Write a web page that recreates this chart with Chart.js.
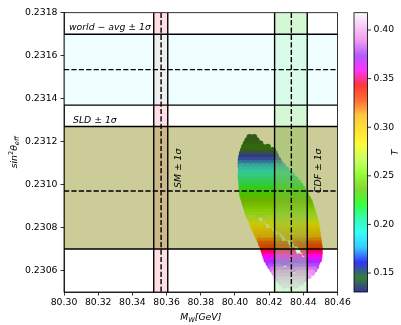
<!DOCTYPE html>
<html>
<head>
<meta charset="utf-8">
<script src="https://cdn.jsdelivr.net/npm/chart.js@4.4.0/dist/chart.umd.min.js"></script>
<style>
  html, body { margin: 0; padding: 0; background: #fff; }
  canvas { display: block; }
</style>
</head>
<body>
<canvas id="chart" width="401" height="325"></canvas>
<script>
// axis ticks
const xTicks = [80.30, 80.32, 80.34, 80.36, 80.38, 80.40, 80.42, 80.44, 80.46];
const yTicks = [0.2306, 0.2308, 0.2310, 0.2312, 0.2314, 0.2316, 0.2318];
const cbarTicks = [0.15, 0.20, 0.25, 0.30, 0.35, 0.40];
const tMin = 0.1305, tMax = 0.4178;

// horizontal bands: world average and SLD (sin^2 theta_eff)
const hBandLabels = ['world \u2212 avg \u00b1 1\u03c3', 'SLD \u00b1 1\u03c3'];
const hBandLo = [0.23137, 0.23070];
const hBandMid = [0.231535, 0.23097];
const hBandHi = [0.23170, 0.23127];

// vertical bands: SM and CDF (M_W)
const vBandLabels = ['SM \u00b1 1\u03c3', 'CDF \u00b1 1\u03c3'];
const vBandLo = [80.3525, 80.4232];
const vBandMid = [80.3568, 80.4330];
const vBandHi = [80.3607, 80.4423];

// scan points: sin2 of the row, T of the row, M_W of each dot
const cloudSin2 = [
  0.23122, 0.231205, 0.23119, 0.231175, 0.23116, 0.231145, 0.23113, 0.231115,
  0.23110, 0.231085, 0.23107, 0.231055, 0.23104, 0.231025, 0.23101, 0.230995,
  0.23098, 0.230965, 0.23095, 0.230935, 0.23092, 0.230905, 0.23089, 0.230875,
  0.23086, 0.230845, 0.23083, 0.230815, 0.23080, 0.230785, 0.23077, 0.230755,
  0.23074, 0.230725, 0.23071, 0.230695, 0.23068, 0.230665, 0.23065, 0.230635,
  0.23062, 0.230605, 0.23059, 0.230575, 0.23056, 0.230545, 0.23053];
const cloudT = [
  0.140, 0.141, 0.142, 0.1445, 0.147, 0.1525, 0.158, 0.164,
  0.170, 0.177, 0.184, 0.1905, 0.197, 0.2025, 0.208, 0.213,
  0.218, 0.2225, 0.227, 0.232, 0.237, 0.2425, 0.248, 0.254,
  0.260, 0.2665, 0.273, 0.2805, 0.288, 0.2955, 0.303, 0.3115,
  0.320, 0.3285, 0.337, 0.3435, 0.350, 0.357, 0.364, 0.371,
  0.378, 0.385, 0.392, 0.397, 0.402, 0.406, 0.410];
const cloudMw = [
  [80.4086, 80.4112],
  [80.4074, 80.4100, 80.4126],
  [80.4064, 80.4092, 80.4120, 80.4148],
  [80.4055, 80.4078, 80.4106, 80.4134, 80.4162, 80.4192],
  [80.4048, 80.4076, 80.4104, 80.4132, 80.4160, 80.4188, 80.4222],
  [80.4042, 80.4062, 80.4090, 80.4118, 80.4146, 80.4174, 80.4202, 80.4232],
  [80.4038, 80.4066, 80.4094, 80.4122, 80.4150, 80.4178, 80.4206, 80.4240],
  [80.4035, 80.4052, 80.4080, 80.4108, 80.4136, 80.4164, 80.4192, 80.4220, 80.4252],
  [80.4034, 80.4062, 80.4090, 80.4118, 80.4146, 80.4174, 80.4202, 80.4230, 80.4262],
  [80.4034, 80.4048, 80.4076, 80.4104, 80.4132, 80.4160, 80.4188, 80.4216, 80.4244, 80.4280],
  [80.4036, 80.4064, 80.4092, 80.4120, 80.4148, 80.4176, 80.4204, 80.4232, 80.4260, 80.4298],
  [80.4035, 80.4050, 80.4078, 80.4106, 80.4134, 80.4162, 80.4190, 80.4218, 80.4246, 80.4274, 80.4316],
  [80.4034, 80.4062, 80.4090, 80.4118, 80.4146, 80.4174, 80.4202, 80.4230, 80.4258, 80.4286, 80.4310, 80.4334],
  [80.4036, 80.4048, 80.4076, 80.4104, 80.4132, 80.4160, 80.4188, 80.4216, 80.4244, 80.4272, 80.4300, 80.4324, 80.4352],
  [80.4038, 80.4066, 80.4094, 80.4122, 80.4150, 80.4178, 80.4206, 80.4234, 80.4262, 80.4290, 80.4318, 80.4344, 80.4368],
  [80.4039, 80.4052, 80.4080, 80.4108, 80.4136, 80.4164, 80.4192, 80.4220, 80.4248, 80.4276, 80.4304, 80.4332, 80.4358, 80.4382],
  [80.4040, 80.4068, 80.4096, 80.4124, 80.4152, 80.4180, 80.4208, 80.4236, 80.4264, 80.4292, 80.4320, 80.4348, 80.4372, 80.4394],
  [80.4042, 80.4054, 80.4082, 80.4110, 80.4138, 80.4166, 80.4194, 80.4222, 80.4250, 80.4278, 80.4306, 80.4334, 80.4362, 80.4384, 80.4405],
  [80.4044, 80.4072, 80.4100, 80.4128, 80.4156, 80.4184, 80.4212, 80.4240, 80.4268, 80.4296, 80.4324, 80.4352, 80.4380, 80.4416],
  [80.4050, 80.4078, 80.4106, 80.4134, 80.4162, 80.4190, 80.4218, 80.4246, 80.4274, 80.4302, 80.4330, 80.4358, 80.4386, 80.4408, 80.4426],
  [80.4056, 80.4084, 80.4112, 80.4140, 80.4168, 80.4196, 80.4224, 80.4252, 80.4280, 80.4308, 80.4336, 80.4364, 80.4392, 80.4414, 80.4436],
  [80.4062, 80.4084, 80.4110, 80.4138, 80.4166, 80.4194, 80.4222, 80.4250, 80.4278, 80.4306, 80.4334, 80.4362, 80.4390, 80.4416, 80.4442],
  [80.4068, 80.4096, 80.4124, 80.4152, 80.4180, 80.4208, 80.4236, 80.4264, 80.4292, 80.4320, 80.4348, 80.4376, 80.4404, 80.4428, 80.4448],
  [80.4074, 80.4096, 80.4124, 80.4152, 80.4180, 80.4208, 80.4236, 80.4264, 80.4292, 80.4320, 80.4348, 80.4376, 80.4404, 80.4430, 80.4454],
  [80.4080, 80.4108, 80.4136, 80.4164, 80.4192, 80.4220, 80.4248, 80.4276, 80.4304, 80.4332, 80.4360, 80.4388, 80.4416, 80.4440, 80.4460],
  [80.4089, 80.4114, 80.4178, 80.4206, 80.4234, 80.4262, 80.4290, 80.4318, 80.4346, 80.4374, 80.4402, 80.4430, 80.4452, 80.4466],
  [80.4098, 80.4126, 80.4196, 80.4224, 80.4252, 80.4280, 80.4308, 80.4336, 80.4364, 80.4392, 80.4420, 80.4448, 80.4472],
  [80.4104, 80.4132, 80.4160, 80.4216, 80.4238, 80.4266, 80.4294, 80.4322, 80.4350, 80.4378, 80.4406, 80.4434, 80.4460, 80.4476],
  [80.4110, 80.4138, 80.4166, 80.4244, 80.4272, 80.4300, 80.4328, 80.4356, 80.4384, 80.4412, 80.4440, 80.4462, 80.4478],
  [80.4119, 80.4147, 80.4175, 80.4203, 80.4263, 80.4286, 80.4314, 80.4342, 80.4370, 80.4398, 80.4426, 80.4451, 80.4470, 80.4481],
  [80.4128, 80.4156, 80.4184, 80.4212, 80.4292, 80.4320, 80.4348, 80.4376, 80.4404, 80.4432, 80.4458, 80.4484],
  [80.4137, 80.4165, 80.4193, 80.4221, 80.4249, 80.4310, 80.4334, 80.4362, 80.4390, 80.4418, 80.4445, 80.4466, 80.4487],
  [80.4146, 80.4174, 80.4202, 80.4230, 80.4258, 80.4340, 80.4368, 80.4396, 80.4424, 80.4452, 80.4472, 80.4490],
  [80.4154, 80.4182, 80.4210, 80.4238, 80.4266, 80.4294, 80.4360, 80.4382, 80.4410, 80.4438, 80.4462, 80.4482, 80.4492],
  [80.4162, 80.4190, 80.4218, 80.4246, 80.4274, 80.4302, 80.4386, 80.4414, 80.4442, 80.4470, 80.4495],
  [80.4168, 80.4196, 80.4224, 80.4252, 80.4280, 80.4308, 80.4336, 80.4400, 80.4428, 80.4456, 80.4482, 80.4495],
  [80.4174, 80.4202, 80.4230, 80.4258, 80.4286, 80.4314, 80.4342, 80.4412, 80.4440, 80.4468, 80.4495],
  [80.4180, 80.4208, 80.4236, 80.4264, 80.4292, 80.4320, 80.4348, 80.4376, 80.4426, 80.4454, 80.4480, 80.4493],
  [80.4186, 80.4214, 80.4242, 80.4270, 80.4298, 80.4354, 80.4382, 80.4410, 80.4438, 80.4466, 80.4490],
  [80.4197, 80.4225, 80.4253, 80.4281, 80.4312, 80.4340, 80.4368, 80.4396, 80.4424, 80.4452, 80.4478],
  [80.4208, 80.4236, 80.4264, 80.4320, 80.4348, 80.4376, 80.4404, 80.4432, 80.4456, 80.4474],
  [80.4220, 80.4248, 80.4276, 80.4304, 80.4334, 80.4362, 80.4390, 80.4418, 80.4444, 80.4464],
  [80.4232, 80.4260, 80.4288, 80.4316, 80.4372, 80.4400, 80.4428, 80.4450],
  [80.4244, 80.4272, 80.4300, 80.4330, 80.4358, 80.4386, 80.4414, 80.4430],
  [80.4256, 80.4284, 80.4312, 80.4340, 80.4368, 80.4404],
  [80.4272, 80.4300, 80.4330, 80.4360, 80.4385],
  [80.4290, 80.4322, 80.4356]
];

// gist_ncar segment data
const ncar = {
  r: [[0, 0], [0.3098, 0], [0.3725, 0.3993], [0.4235, 0.5003], [0.5333, 1], [0.7922, 1],
      [0.8471, 0.6218], [0.898, 0.9235], [1, 0.9961]],
  g: [[0, 0], [0.051, 0.3722], [0.1059, 0], [0.1569, 0.7202], [0.1608, 0.7537], [0.1647, 0.7752],
      [0.2157, 1], [0.2588, 0.9804], [0.2706, 0.9804], [0.3176, 1], [0.3686, 0.8081], [0.4275, 1],
      [0.5216, 1], [0.6314, 0.7292], [0.6863, 0.2796], [0.7451, 0], [0.7922, 0], [0.8431, 0.1753],
      [0.898, 0.5], [1, 0.9725]],
  b: [[0, 0.502], [0.051, 0.0222], [0.1098, 1], [0.2039, 1], [0.2627, 0.6145], [0.3216, 0],
      [0.4157, 0], [0.4745, 0.2342], [0.5333, 0], [0.5804, 0], [0.6314, 0.0549], [0.6902, 0],
      [0.7373, 0], [0.7922, 0.9738], [0.8, 1], [0.8431, 1], [0.898, 0.9341], [1, 0.9961]]
};

function seg(list, f) {
  for (let i = 1; i < list.length; i++) {
    if (f <= list[i][0]) {
      const [x0, y0] = list[i - 1], [x1, y1] = list[i];
      return y0 + (y1 - y0) * (f - x0) / (x1 - x0);
    }
  }
  return list[list.length - 1][1];
}

function tColour(t) {
  const f = Math.min(1, Math.max(0, (t - tMin) / (tMax - tMin)));
  const r = Math.round(255 * seg(ncar.r, f));
  const g = Math.round(255 * seg(ncar.g, f));
  const b = Math.round(255 * seg(ncar.b, f));
  return `rgb(${r},${g},${b})`;
}

const points = [];
cloudSin2.forEach((s, i) => {
  cloudMw[i].forEach(m => points.push({ x: m, y: s, t: cloudT[i] }));
});

const FONT = 'DejaVu Sans';
const FS = 9.3;
const vBandFill = ['rgba(255,192,203,0.5)', 'rgba(144,238,144,0.4)'];
const hBandFill = ['rgba(224,255,255,0.5)', 'rgba(128,128,0,0.4)'];

// draw a run of text pieces (sub/superscripts), returns width
function pieces(ctx, parts, x, y, measureOnly) {
  let w = 0;
  parts.forEach(p => {
    ctx.font = `${p.italic ? 'italic ' : ''}${p.size}px "${FONT}"`;
    if (!measureOnly) ctx.fillText(p.text, x + w, y + (p.dy || 0));
    w += ctx.measureText(p.text).width;
  });
  return w;
}

const overlay = {
  id: 'overlay',
  afterDatasetsDraw(chart) {
    const { ctx, chartArea: a, scales: { x, y } } = chart;
    ctx.save();
    ctx.beginPath();
    ctx.rect(a.left, a.top, a.right - a.left, a.bottom - a.top);
    ctx.clip();

    vBandLo.forEach((lo, i) => {
      const x0 = x.getPixelForValue(lo), x1 = x.getPixelForValue(vBandHi[i]);
      ctx.fillStyle = vBandFill[i];
      ctx.fillRect(x0, a.top, x1 - x0, a.bottom - a.top);
    });
    hBandLo.forEach((lo, i) => {
      const y0 = y.getPixelForValue(hBandHi[i]), y1 = y.getPixelForValue(lo);
      ctx.fillStyle = hBandFill[i];
      ctx.fillRect(a.left, y0, a.right - a.left, y1 - y0);
    });

    ctx.strokeStyle = '#000';
    ctx.lineWidth = 1.4;
    const hline = (v, dash) => {
      const py = y.getPixelForValue(v);
      ctx.setLineDash(dash);
      ctx.beginPath(); ctx.moveTo(a.left, py); ctx.lineTo(a.right, py); ctx.stroke();
    };
    const vline = (v, dash) => {
      const px = x.getPixelForValue(v);
      ctx.setLineDash(dash);
      ctx.beginPath(); ctx.moveTo(px, a.top); ctx.lineTo(px, a.bottom); ctx.stroke();
    };
    hBandLo.forEach((lo, i) => {
      hline(lo, []); hline(hBandHi[i], []); hline(hBandMid[i], [5.2, 2.2]);
    });
    vBandLo.forEach((lo, i) => {
      vline(lo, []); vline(vBandHi[i], []); vline(vBandMid[i], [5.2, 2.2]);
    });
    ctx.setLineDash([]);

    // band labels
    ctx.fillStyle = '#000';
    ctx.font = `italic ${FS}px "${FONT}"`;
    ctx.textAlign = 'left';
    ctx.textBaseline = 'alphabetic';
    ctx.fillText(hBandLabels[0], a.left + 5, y.getPixelForValue(hBandHi[0]) - 4);
    ctx.fillText(hBandLabels[1], a.left + 9, y.getPixelForValue(hBandHi[1]) - 4);
    const vStart = [188, 193];
    vBandLabels.forEach((lab, i) => {
      ctx.save();
      ctx.translate(x.getPixelForValue(vBandHi[i]) + 13.5, vStart[i]);
      ctx.rotate(-Math.PI / 2);
      ctx.fillText(lab, 0, 0);
      ctx.restore();
    });
    ctx.restore();
  },
  afterDraw(chart) {
    const { ctx, chartArea: a } = chart;
    ctx.save();
    ctx.strokeStyle = '#000';
    ctx.lineWidth = 0.8;
    ctx.strokeRect(a.left, a.top, a.right - a.left, a.bottom - a.top);

    ctx.fillStyle = '#000';
    ctx.textBaseline = 'alphabetic';
    // x title: M_W[GeV]
    const xt = [
      { text: 'M', size: FS, italic: true },
      { text: 'W', size: 6.6, italic: true, dy: 2 },
      { text: '[GeV]', size: FS, italic: true }
    ];
    const xw = pieces(ctx, xt, 0, 0, true);
    pieces(ctx, xt, (a.left + a.right) / 2 - xw / 2, 319.5);

    // y title: sin^2 theta_eff
    const yt = [
      { text: 'sin', size: FS, italic: true },
      { text: '2', size: 6.6, dy: -3.6 },
      { text: '\u03b8', size: FS, italic: true },
      { text: 'eff', size: 6.6, italic: true, dy: 2 }
    ];
    const yw = pieces(ctx, yt, 0, 0, true);
    ctx.save();
    ctx.translate(16.5, (a.top + a.bottom) / 2 + yw / 2);
    ctx.rotate(-Math.PI / 2);
    pieces(ctx, yt, 0, 0);
    ctx.restore();

    // colour bar
    const cx = a.right + 16.5, cw = 13.5, ct = a.top, cb = a.bottom, ch = cb - ct;
    for (let i = 0; i < Math.ceil(ch); i++) {
      const t = tMax - (i + 0.5) / ch * (tMax - tMin);
      ctx.fillStyle = tColour(t);
      ctx.fillRect(cx, ct + i, cw, Math.min(1, ch - i));
    }
    ctx.strokeStyle = '#000';
    ctx.lineWidth = 0.8;
    ctx.strokeRect(cx, ct, cw, ch);
    ctx.fillStyle = '#000';
    ctx.font = `${FS}px "${FONT}"`;
    ctx.textAlign = 'left';
    ctx.textBaseline = 'middle';
    cbarTicks.forEach(t => {
      const py = cb - (t - tMin) / (tMax - tMin) * ch;
      ctx.beginPath(); ctx.moveTo(cx + cw, py); ctx.lineTo(cx + cw + 3.5, py); ctx.stroke();
      ctx.fillText(t.toFixed(2), cx + cw + 6, py);
    });
    ctx.save();
    ctx.translate(397.5, (ct + cb) / 2);
    ctx.rotate(-Math.PI / 2);
    ctx.textAlign = 'center';
    ctx.textBaseline = 'alphabetic';
    ctx.font = `italic ${FS}px "${FONT}"`;
    ctx.fillText('T', 0, 0);
    ctx.restore();
    ctx.restore();
  }
};

Chart.defaults.font.family = FONT;
Chart.defaults.font.size = FS;
Chart.defaults.color = '#000';

new Chart(document.getElementById('chart'), {
  type: 'scatter',
  data: {
    datasets: [{
      data: points,
      pointRadius: 3.2,
      pointBorderWidth: 0,
      pointBackgroundColor: points.map(p => tColour(p.t)),
      pointHoverRadius: 3.2
    }]
  },
  options: {
    responsive: false,
    animation: false,
    events: [],
    layout: { padding: { left: 0, top: 12.7, right: 63.5, bottom: 0 } },
    plugins: { legend: { display: false }, tooltip: { enabled: false } },
    scales: {
      x: {
        type: 'linear',
        min: 80.30,
        max: 80.46,
        afterBuildTicks: s => { s.ticks = xTicks.map(v => ({ value: v })); },
        afterFit: s => { s.height = 33; },
        ticks: { callback: v => v.toFixed(2), padding: 2, maxRotation: 0, autoSkip: false },
        grid: { drawOnChartArea: false, tickLength: 3.5, tickWidth: 0.8, tickColor: '#000' },
        border: { color: '#000', width: 0.8 }
      },
      y: {
        type: 'linear',
        min: 0.2305,
        max: 0.2318,
        afterBuildTicks: s => { s.ticks = yTicks.map(v => ({ value: v })); },
        afterFit: s => { s.width = 64; },
        ticks: { callback: v => v.toFixed(4), padding: 3, autoSkip: false },
        grid: { drawOnChartArea: false, tickLength: 3.5, tickWidth: 0.8, tickColor: '#000' },
        border: { color: '#000', width: 0.8 }
      }
    }
  },
  plugins: [overlay]
});
</script>
</body>
</html>
